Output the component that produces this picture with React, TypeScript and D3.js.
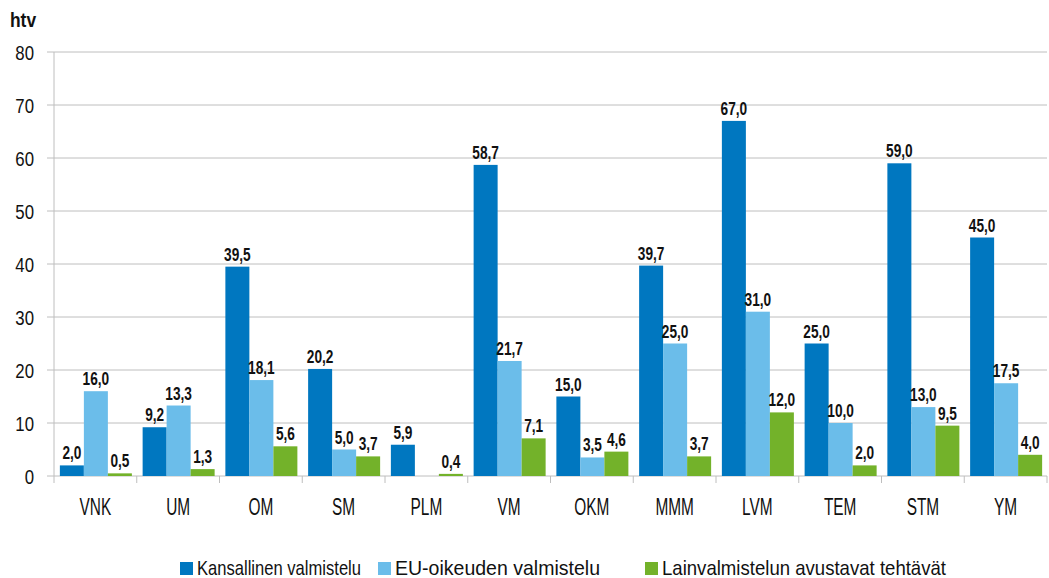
import React from "react";
import * as d3 from "d3";

const categories = ["VNK", "UM", "OM", "SM", "PLM", "VM", "OKM", "MMM", "LVM", "TEM", "STM", "YM"];
const kansallinen = [2.0, 9.2, 39.5, 20.2, 5.9, 58.7, 15.0, 39.7, 67.0, 25.0, 59.0, 45.0];
const euOikeus = [16.0, 13.3, 18.1, 5.0, null, 21.7, 3.5, 25.0, 31.0, 10.0, 13.0, 17.5];
const lainvalmistelu = [0.5, 1.3, 5.6, 3.7, 0.4, 7.1, 4.6, 3.7, 12.0, 2.0, 9.5, 4.0];
const seriesNames = ["Kansallinen valmistelu", "EU-oikeuden valmistelu", "Lainvalmistelun avustavat tehtävät"];
const yTicks = [0, 10, 20, 30, 40, 50, 60, 70, 80];

const colors = ["#0077C0", "#6BBDEA", "#73B22A"];
const FONT = "'Liberation Sans', Arial, sans-serif";

function CText(props: { x: number; y: number; sx: number; size: number; anchor?: string; bold?: boolean; children: React.ReactNode }) {
  return (
    <text
      transform={`translate(${props.x},${props.y}) scale(${props.sx},1)`}
      fontSize={props.size}
      fontWeight={props.bold ? "bold" : "normal"}
      textAnchor={props.anchor || "start"}
      fill="#111"
    >
      {props.children}
    </text>
  );
}

export default function App() {
  const W = 1049, H = 578;
  const left = 54, right = 1047, top = 52, bottom = 476;
  const x = d3.scaleBand<string>().domain(categories).range([left, right]);
  const y = d3.scaleLinear().domain([0, 80]).range([bottom, top]);
  const series = [kansallinen, euOikeus, lainvalmistelu];
  const inner = d3.scaleBand<number>().domain([0, 1, 2]).range([0, 72]);
  const groupOffset = (x.bandwidth() - 72) / 2 + 0.5;
  const fmt = (v: number) => v.toFixed(1).replace(".", ",");
  const legendX = [180, 378, 645];
  const legendLen = [164, 205, 284];

  return (
    <svg width={W} height={H} style={{ position: "absolute", left: 0, top: 0, fontFamily: FONT }}>
      <rect width={W} height={H} fill="#fff" />
      <CText x={10} y={27} sx={0.87} size={20} bold>htv</CText>
      {yTicks.map((t) => (
        <g key={t}>
          <line x1={47} x2={right} y1={y(t)} y2={y(t)} stroke="#BEBEBE" strokeWidth={1} />
          <CText x={34} y={y(t) + 8} sx={0.8} size={21} anchor="end">{t}</CText>
        </g>
      ))}
      <line x1={left} x2={left} y1={top} y2={bottom + 7} stroke="#BEBEBE" />
      {categories.map((c, i) => (
        <line key={"t" + i} x1={(x(c) as number) + x.bandwidth()} x2={(x(c) as number) + x.bandwidth()} y1={bottom} y2={bottom + 7} stroke="#BEBEBE" />
      ))}
      {categories.map((c, i) => (
        <g key={c}>
          {series.map((s, k) => {
            const v = s[i];
            if (v == null) return null;
            const bx = (x(c) as number) + groupOffset + (inner(k) as number);
            const bw = inner.bandwidth();
            return (
              <g key={k}>
                <rect x={bx} y={y(v)} width={bw} height={bottom - y(v)} fill={colors[k]} />
                <CText x={bx + bw / 2} y={y(v) - 6} sx={0.76} size={18} anchor="middle" bold>{fmt(v)}</CText>
              </g>
            );
          })}
          <CText x={(x(c) as number) + x.bandwidth() / 2} y={515} sx={0.67} size={23} anchor="middle">{c}</CText>
        </g>
      ))}
      {seriesNames.map((n, k) => (
        <g key={n}>
          <rect x={legendX[k]} y={562} width={13} height={13} fill={colors[k]} />
          <text x={legendX[k] + 17} y={575} fontSize={21} textLength={legendLen[k]} lengthAdjust="spacingAndGlyphs" fill="#111">{n}</text>
        </g>
      ))}
    </svg>
  );
}
